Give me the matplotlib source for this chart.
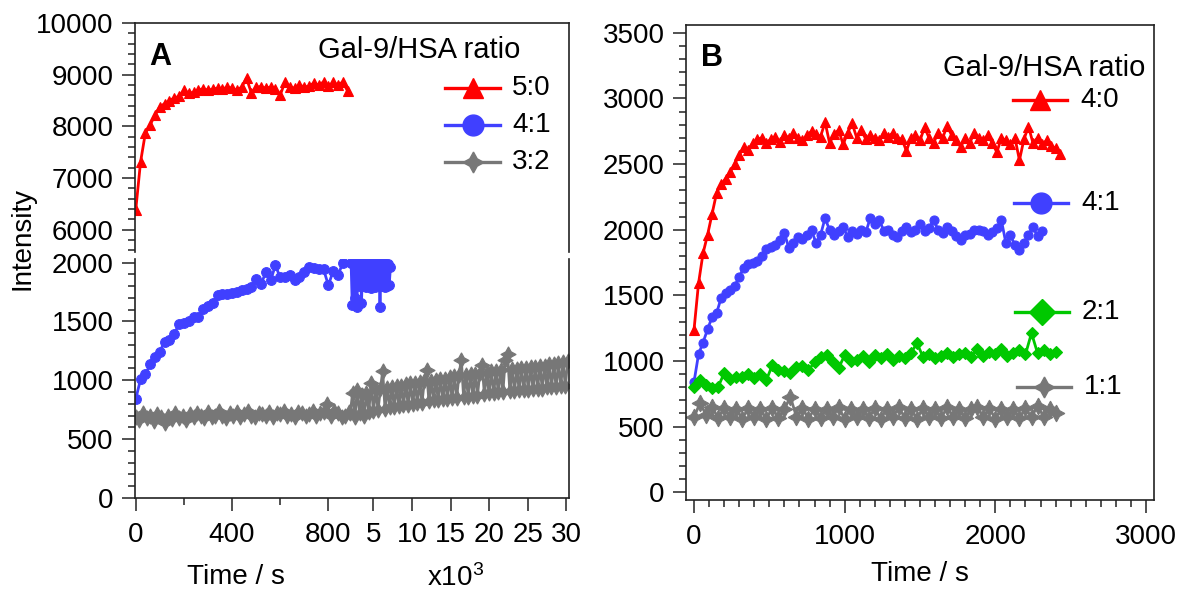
import numpy as np
import matplotlib
matplotlib.use('Agg')
import matplotlib.pyplot as plt
from matplotlib.ticker import FixedLocator, FixedFormatter, MultipleLocator

plt.rcParams['font.family'] = ['Liberation Sans', 'DejaVu Sans']
plt.rcParams['mathtext.default'] = 'regular'

# ---------------- data: panel A (Gal-9/HSA ratio, broken axes) ----------------
a50_t = np.arange(0, 881, 20)
a50_v = [6380, 7310, 7870, 8030, 8220, 8380, 8440, 8500, 8550, 8580,
         8700, 8640, 8660, 8700, 8730, 8700, 8720, 8740, 8720, 8760,
         8740, 8700, 8760, 8930, 8650, 8760, 8770, 8740, 8760, 8720,
         8610, 8860, 8760, 8740, 8800, 8760, 8780, 8840, 8800, 8860,
         8780, 8850, 8800, 8860, 8680]

a41_t = np.arange(0, 861, 20)
a41_v = [840, 1008, 1050, 1134, 1200, 1244, 1328, 1344, 1395, 1479,
         1490, 1500, 1538, 1538, 1605, 1630, 1660, 1723, 1730, 1731,
         1745, 1750, 1765, 1773, 1790, 1857, 1815, 1916, 1849, 1975,
         1874, 1880, 1891, 1849, 1880, 1920, 1958, 1950, 1941, 1941,
         1807, 1930, 1890, 2000]
# long-time part of 4:1 (x10^3 s segment)
a41_long_t = np.arange(2100, 7201, 150)
a41_long_v = [2000, 1640, 1990, 1700, 2000, 1620, 1980, 1800, 2000, 1660,
              1990, 1800, 2000, 1790, 1990, 1810, 2000, 1780, 1990, 1800,
              2000, 1790, 1980, 1810, 2000, 1620, 1990, 1800, 2000, 1790,
              1990, 1800, 1990, 1810, 1960]

a32_t = np.arange(0, 886, 15)
a32_v = [690, 660, 720, 680, 700, 650, 710, 690, 640, 700,
         670, 720, 680, 700, 660, 710, 690, 720, 700, 680,
         730, 690, 700, 740, 700, 680, 720, 700, 730, 690,
         710, 740, 700, 690, 720, 710, 700, 730, 690, 720,
         710, 740, 700, 710, 690, 730, 720, 700, 710, 740,
         700, 720, 730, 800, 700, 740, 720, 690, 700, 730]
a32_long_t = np.arange(2000, 30401, 300)
a32_long_v = [720, 895, 690, 915, 720, 875, 700, 895, 730, 980,
              740, 915, 750, 925, 1075, 760, 935, 770, 945, 770,
              955, 780, 955, 790, 965, 790, 975, 800, 975, 810,
              985, 810, 995, 1090, 820, 995, 830, 1005, 830, 1015,
              840, 1015, 840, 1025, 850, 1035, 850, 1045, 1175, 860,
              1045, 860, 1055, 870, 1055, 870, 1065, 1130, 880, 1065,
              890, 1075, 890, 1075, 900, 1085, 900, 1175, 1220, 910,
              1095, 910, 1095, 920, 1105, 920, 1105, 920, 1115, 930,
              1115, 930, 1125, 930, 1125, 940, 1135, 940, 1135, 940,
              1145, 950, 1155, 950, 1160]

# ---------------- data: panel B ----------------
b40_t = np.arange(0, 2431, 30)
b40_v = [1235, 1590, 1820, 1960, 2120, 2280, 2345, 2390, 2440, 2500,
         2570, 2630, 2610, 2660, 2690, 2700, 2660, 2690, 2710, 2670,
         2720, 2700, 2740, 2700, 2680, 2720, 2750, 2730, 2710, 2820,
         2660, 2730, 2760, 2650, 2740, 2810, 2700, 2760, 2690, 2720,
         2700, 2680, 2740, 2710, 2738, 2700, 2690, 2600, 2700, 2720,
         2680, 2780, 2700, 2660, 2740, 2700, 2790, 2720, 2680, 2630,
         2700, 2660, 2740, 2700, 2680, 2720, 2660, 2590, 2700, 2680,
         2650, 2700, 2530, 2690, 2786, 2660, 2700, 2650, 2680, 2640,
         2620, 2580]

b41_t = np.arange(0, 2311, 30)
b41_v = [838, 1050, 1140, 1240, 1334, 1364, 1480, 1520, 1540, 1570,
         1640, 1710, 1740, 1750, 1765, 1800, 1850, 1867, 1880, 1920,
         1974, 1860, 1900, 1944, 1930, 1960, 1997, 1898, 1960, 2088,
         1997, 1960, 1990, 2020, 1944, 1990, 1970, 2000, 1980, 2088,
         2040, 2073, 1990, 2000, 1960, 1944, 1990, 2020, 1980, 2000,
         2040, 1990, 2010, 2073, 2000, 1974, 2020, 1990, 1950, 1920,
         1960, 1970, 1997, 2000, 1990, 1960, 1980, 2010, 2073, 1898,
         1960, 1880, 1845, 1900, 1960, 2020, 1950, 1990]

b21_t = np.arange(0, 2401, 40)
b21_v = [800, 853, 820, 792, 800, 907, 860, 880, 876, 900,
         870, 900, 853, 968, 930, 920, 907, 950, 960, 930,
         990, 1029, 1044, 990, 945, 1044, 1000, 1010, 1040, 990,
         1044, 1020, 1050, 1010, 1040, 1020, 1060, 1136, 1030, 1050,
         1020, 1040, 1060, 1030, 1050, 1060, 1030, 1090, 1040, 1070,
         1050, 1090, 1040, 1060, 1080, 1050, 1212, 1060, 1080, 1050,
         1067]

b11_t = np.arange(0, 2401, 40)
b11_v = [572, 678, 590, 650, 565, 640, 575, 635, 560, 640,
         575, 630, 560, 640, 565, 635, 724, 575, 640, 560,
         635, 565, 630, 575, 645, 560, 635, 570, 630, 565,
         640, 560, 635, 575, 645, 565, 630, 560, 640, 570,
         635, 565, 645, 575, 630, 565, 635, 650, 570, 640,
         560, 635, 575, 630, 565, 640, 570, 660, 575, 635,
         600]

RED, BLUE, GREEN, GRAY = '#ff0000', '#4040ff', '#00c800', '#777777'
STAR = (4, 1, 0)

W, H = 1182, 594
fig = plt.figure(figsize=(W / 100, H / 100), dpi=100)


def px_rect(x0, y0, x1, y1):
    return [x0 / W, 1 - y1 / H, (x1 - x0) / W, (y1 - y0) / H]


# broken time axis for panel A: 0-890 s linear, then 2000-30400 s squeezed
BREAK_LO, BREAK_HI, SQUEEZE = 890.0, 2000.0, 0.032
T_KNOTS = [-1e5, BREAK_LO, BREAK_HI, 1e6]
U_KNOTS = [-1e5, BREAK_LO, BREAK_LO + 1, BREAK_LO + 1 + (1e6 - BREAK_HI) * SQUEEZE]


def fwd(t):
    return np.interp(t, T_KNOTS, U_KNOTS)


def inv(u):
    return np.interp(u, U_KNOTS, T_KNOTS)


def style(ax):
    for s in ax.spines.values():
        s.set_linewidth(1.2)
        s.set_color('#222222')
    ax.tick_params(which='both', direction='out', width=1.1, colors='#222222',
                   labelsize=20, labelcolor='black', top=False, right=False)
    ax.tick_params(which='major', length=9.4)
    ax.tick_params(which='minor', length=5)
    ax.tick_params(axis='y', pad=6)
    ax.tick_params(axis='x', pad=8)


axA_bot = fig.add_axes(px_rect(135, 259, 569, 498))
axA_top = fig.add_axes(px_rect(135, 23, 569, 252), sharex=axA_bot)
axB = fig.add_axes(px_rect(686, 25, 1154, 500))

for ax in (axA_bot, axA_top):
    ax.set_xscale('function', functions=(fwd, inv))
    style(ax)
style(axB)

line_kw = dict(lw=2.0, mew=0.8)

# panel A
axA_top.plot(a50_t, a50_v, color=RED, marker='^', ms=6.5, mec=RED, **line_kw)
axA_bot.plot(np.concatenate([a41_t, a41_long_t]), a41_v + a41_long_v,
             color=BLUE, marker='o', ms=7, mec=BLUE, **line_kw)
axA_bot.plot(np.concatenate([a32_t, a32_long_t]), a32_v + a32_long_v,
             color=GRAY, marker=STAR, ms=11, mec=GRAY, **line_kw)

axA_bot.set_xlim(-3, 30375)
axA_top.set_ylim(5570, 10000)
axA_bot.set_ylim(0, 2030)

axA_top.spines['bottom'].set_visible(False)
axA_top.tick_params(axis='x', which='both', bottom=False, labelbottom=False)
axA_bot.spines['top'].set_visible(False)

xt_major = [0, 400, 800, 5000, 10000, 15000, 20000, 25000, 30000]
xt_labels = ['0', '400', '800', '5', '10', '15', '20', '25', '30']
axA_bot.xaxis.set_major_locator(FixedLocator(xt_major))
axA_bot.xaxis.set_major_formatter(FixedFormatter(xt_labels))
axA_bot.xaxis.set_minor_locator(FixedLocator([200, 600]))

axA_top.yaxis.set_major_locator(FixedLocator([6000, 7000, 8000, 9000, 10000]))
axA_top.yaxis.set_minor_locator(MultipleLocator(200))
axA_bot.yaxis.set_major_locator(FixedLocator([0, 500, 1000, 1500, 2000]))
axA_bot.yaxis.set_minor_locator(MultipleLocator(100))

# panel B
axB.plot(b40_t, b40_v, color=RED, marker='^', ms=6.5, mec=RED, **line_kw)
axB.plot(b41_t, b41_v, color=BLUE, marker='o', ms=6.5, mec=BLUE, **line_kw)
axB.plot(b21_t, b21_v, color=GREEN, marker='D', ms=6.5, mec=GREEN, **line_kw)
axB.plot(b11_t, b11_v, color=GRAY, marker=STAR, ms=12, mec=GRAY, **line_kw)
axB.set_xlim(-53, 3053)
axB.set_ylim(-60, 3560)
axB.xaxis.set_major_locator(MultipleLocator(1000))
axB.xaxis.set_minor_locator(MultipleLocator(100))
axB.yaxis.set_major_locator(MultipleLocator(500))
axB.yaxis.set_minor_locator(MultipleLocator(100))

# overlay in pixel coords for labels and hand-placed legends
ov = fig.add_axes([0, 0, 1, 1], facecolor='none')
ov.set_xlim(0, W)
ov.set_ylim(H, 0)
ov.axis('off')

ov.text(160, 57, 'A', fontsize=22, fontweight='bold', ha='center', va='center')
ov.text(712, 58, 'B', fontsize=22, fontweight='bold', ha='center', va='center')
ov.text(22, 238, 'Intensity', fontsize=20, rotation=90, ha='center', va='center')
ov.text(236, 577, 'Time / s', fontsize=20, ha='center', va='center')
ov.text(456, 578, r'x10$^{3}$', fontsize=20, ha='center', va='center')
ov.text(920, 574, 'Time / s', fontsize=20, ha='center', va='center')


def legend_entry(x0, x1, y, color, marker, ms, label, tx):
    ov.plot([x0, x1], [y, y], color=color, lw=2.4)
    ov.plot([(x0 + x1) / 2], [y], color=color, marker=marker, ms=ms, mec=color)
    ov.text(tx, y, label, fontsize=20, ha='left', va='center')


ov.text(419, 50, 'Gal-9/HSA ratio', fontsize=21, ha='center', va='center')
legend_entry(445, 500, 88, RED, '^', 15, '5:0', 512)
legend_entry(445, 500, 125, BLUE, 'o', 15, '4:1', 512)
legend_entry(445, 500, 162, GRAY, STAR, 15, '3:2', 512)

ov.text(1044, 68, 'Gal-9/HSA ratio', fontsize=21, ha='center', va='center')
legend_entry(1013, 1067, 100, RED, '^', 15, '4:0', 1080)
legend_entry(1014, 1068, 203, BLUE, 'o', 15, '4:1', 1081)
legend_entry(1015, 1069, 312, GREEN, 'D', 13, '2:1', 1082)
legend_entry(1017, 1071, 387, GRAY, STAR, 15, '1:1', 1084)

fig.savefig('out.png', dpi=100)
